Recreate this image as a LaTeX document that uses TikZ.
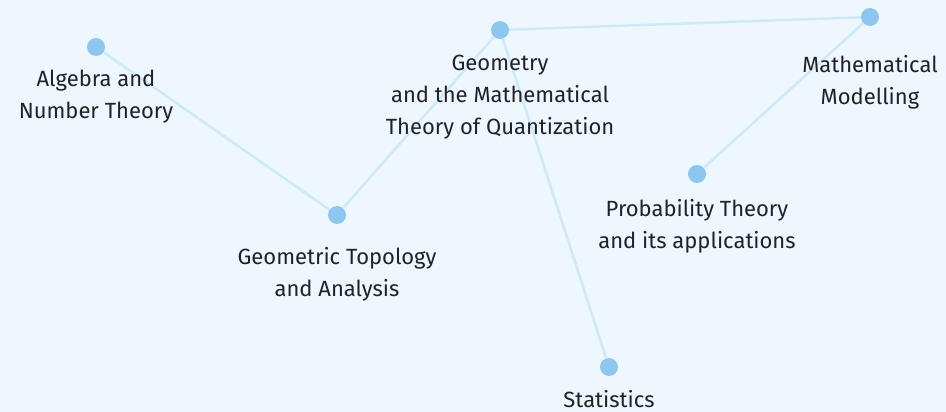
\documentclass[tikz,border=0pt]{standalone}
\usepackage{fontspec}
\setmainfont{Fira Sans}
\definecolor{paper}{RGB}{238,247,253}
\definecolor{dot}{RGB}{141,198,238}
\definecolor{link}{RGB}{206,234,246}
\definecolor{ink}{RGB}{34,34,38}
\usetikzlibrary{positioning}

\begin{document}
\begin{tikzpicture}[x=1pt,y=-1pt,
    area/.style={circle,fill=dot,minimum size=18pt,inner sep=0pt},
    tag/.style={font=\fontsize{22}{32}\selectfont,text=ink,align=center,inner sep=0pt},
    link/.style={draw=link,line width=2.5pt}]
        \fill[paper] (0,0) rectangle (946,412);
        \node[area] (alg)  at (96,47)   {};
        \node[area] (geo)  at (500,30)  {};
        \node[area] (mod)  at (870,17)  {};
        \node[area] (top)  at (337,215) {};
        \node[area] (prob) at (697,174) {};
        \node[area] (stat) at (609,367) {};
        \path[link] (alg) -- (top);
        \path[link] (top) -- (geo);
        \path[link] (geo) -- (mod);
        \path[link] (geo) -- (stat);
        \path[link] (mod) -- (prob);
        \node[tag, below=14pt of alg]  (algtag)  {Algebra and\\Number Theory};
        \node[tag, below=16pt of geo]  (geotag)  {Geometry\\and the Mathematical\\Theory of Quantization};
        \node[tag, below=29pt of mod]  (modtag)  {Mathematical\\Modelling};
        \node[tag, below=23pt of top]  (toptag)  {Geometric Topology\\and Analysis};
        \node[tag, below=16pt of prob] (probtag) {Probability Theory\\and its applications};
        \node[tag, below=14pt of stat] (stattag) {Statistics};
      \end{tikzpicture}
\end{document}
